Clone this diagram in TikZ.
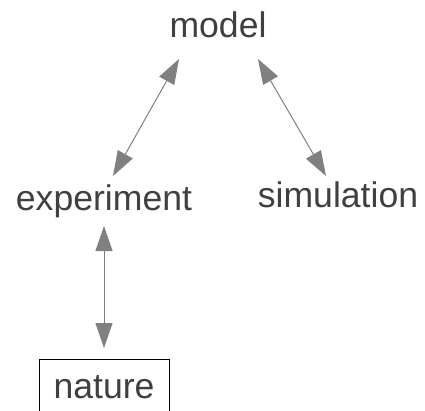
\documentclass[tikz,border=0pt]{standalone}
\usepackage{fontspec}
\setmainfont{Liberation Sans}
\usetikzlibrary{arrows.meta}
\definecolor{txt}{HTML}{404040}
\definecolor{arr}{HTML}{808080}
\tikzset{
  lbl/.style={anchor=base, inner sep=0pt, text=txt, font=\fontsize{35.6pt}{40pt}\selectfont},
  boxed/.style={draw=black, line width=1pt, minimum width=130pt, inner xsep=0pt, inner ysep=14pt, text height=25pt, text depth=10pt, text=txt, font=\fontsize{35.6pt}{40pt}\selectfont, anchor=north},
  link/.style={draw=arr, line width=1pt, {Triangle[length=25pt,width=17pt]}-{Triangle[length=25pt,width=17pt]}, arr}
}
\begin{document}
\begin{tikzpicture}[x=1pt,y=1pt]
\useasboundingbox (0,0) rectangle (425,-410);
\clip (0,0) rectangle (425,-410);
\node[lbl] (model) at (218,-37) {model};
\node[lbl] (experiment) at (104,-210) {experiment};
\node[lbl] (simulation) at (338,-207) {simulation};
\node[boxed] (nature) at (104,-359) {nature};
\draw[link] ([shift={(-39pt,-22pt)}]model.base) -- ([shift={(9pt,34pt)}]experiment.base);
\draw[link] ([shift={(40pt,-22pt)}]model.base) -- ([shift={(-12pt,31pt)}]simulation.base);
\draw[link] ([shift={(0pt,-16pt)}]experiment.base) -- ([shift={(0pt,11pt)}]nature.north);
\end{tikzpicture}
\end{document}
